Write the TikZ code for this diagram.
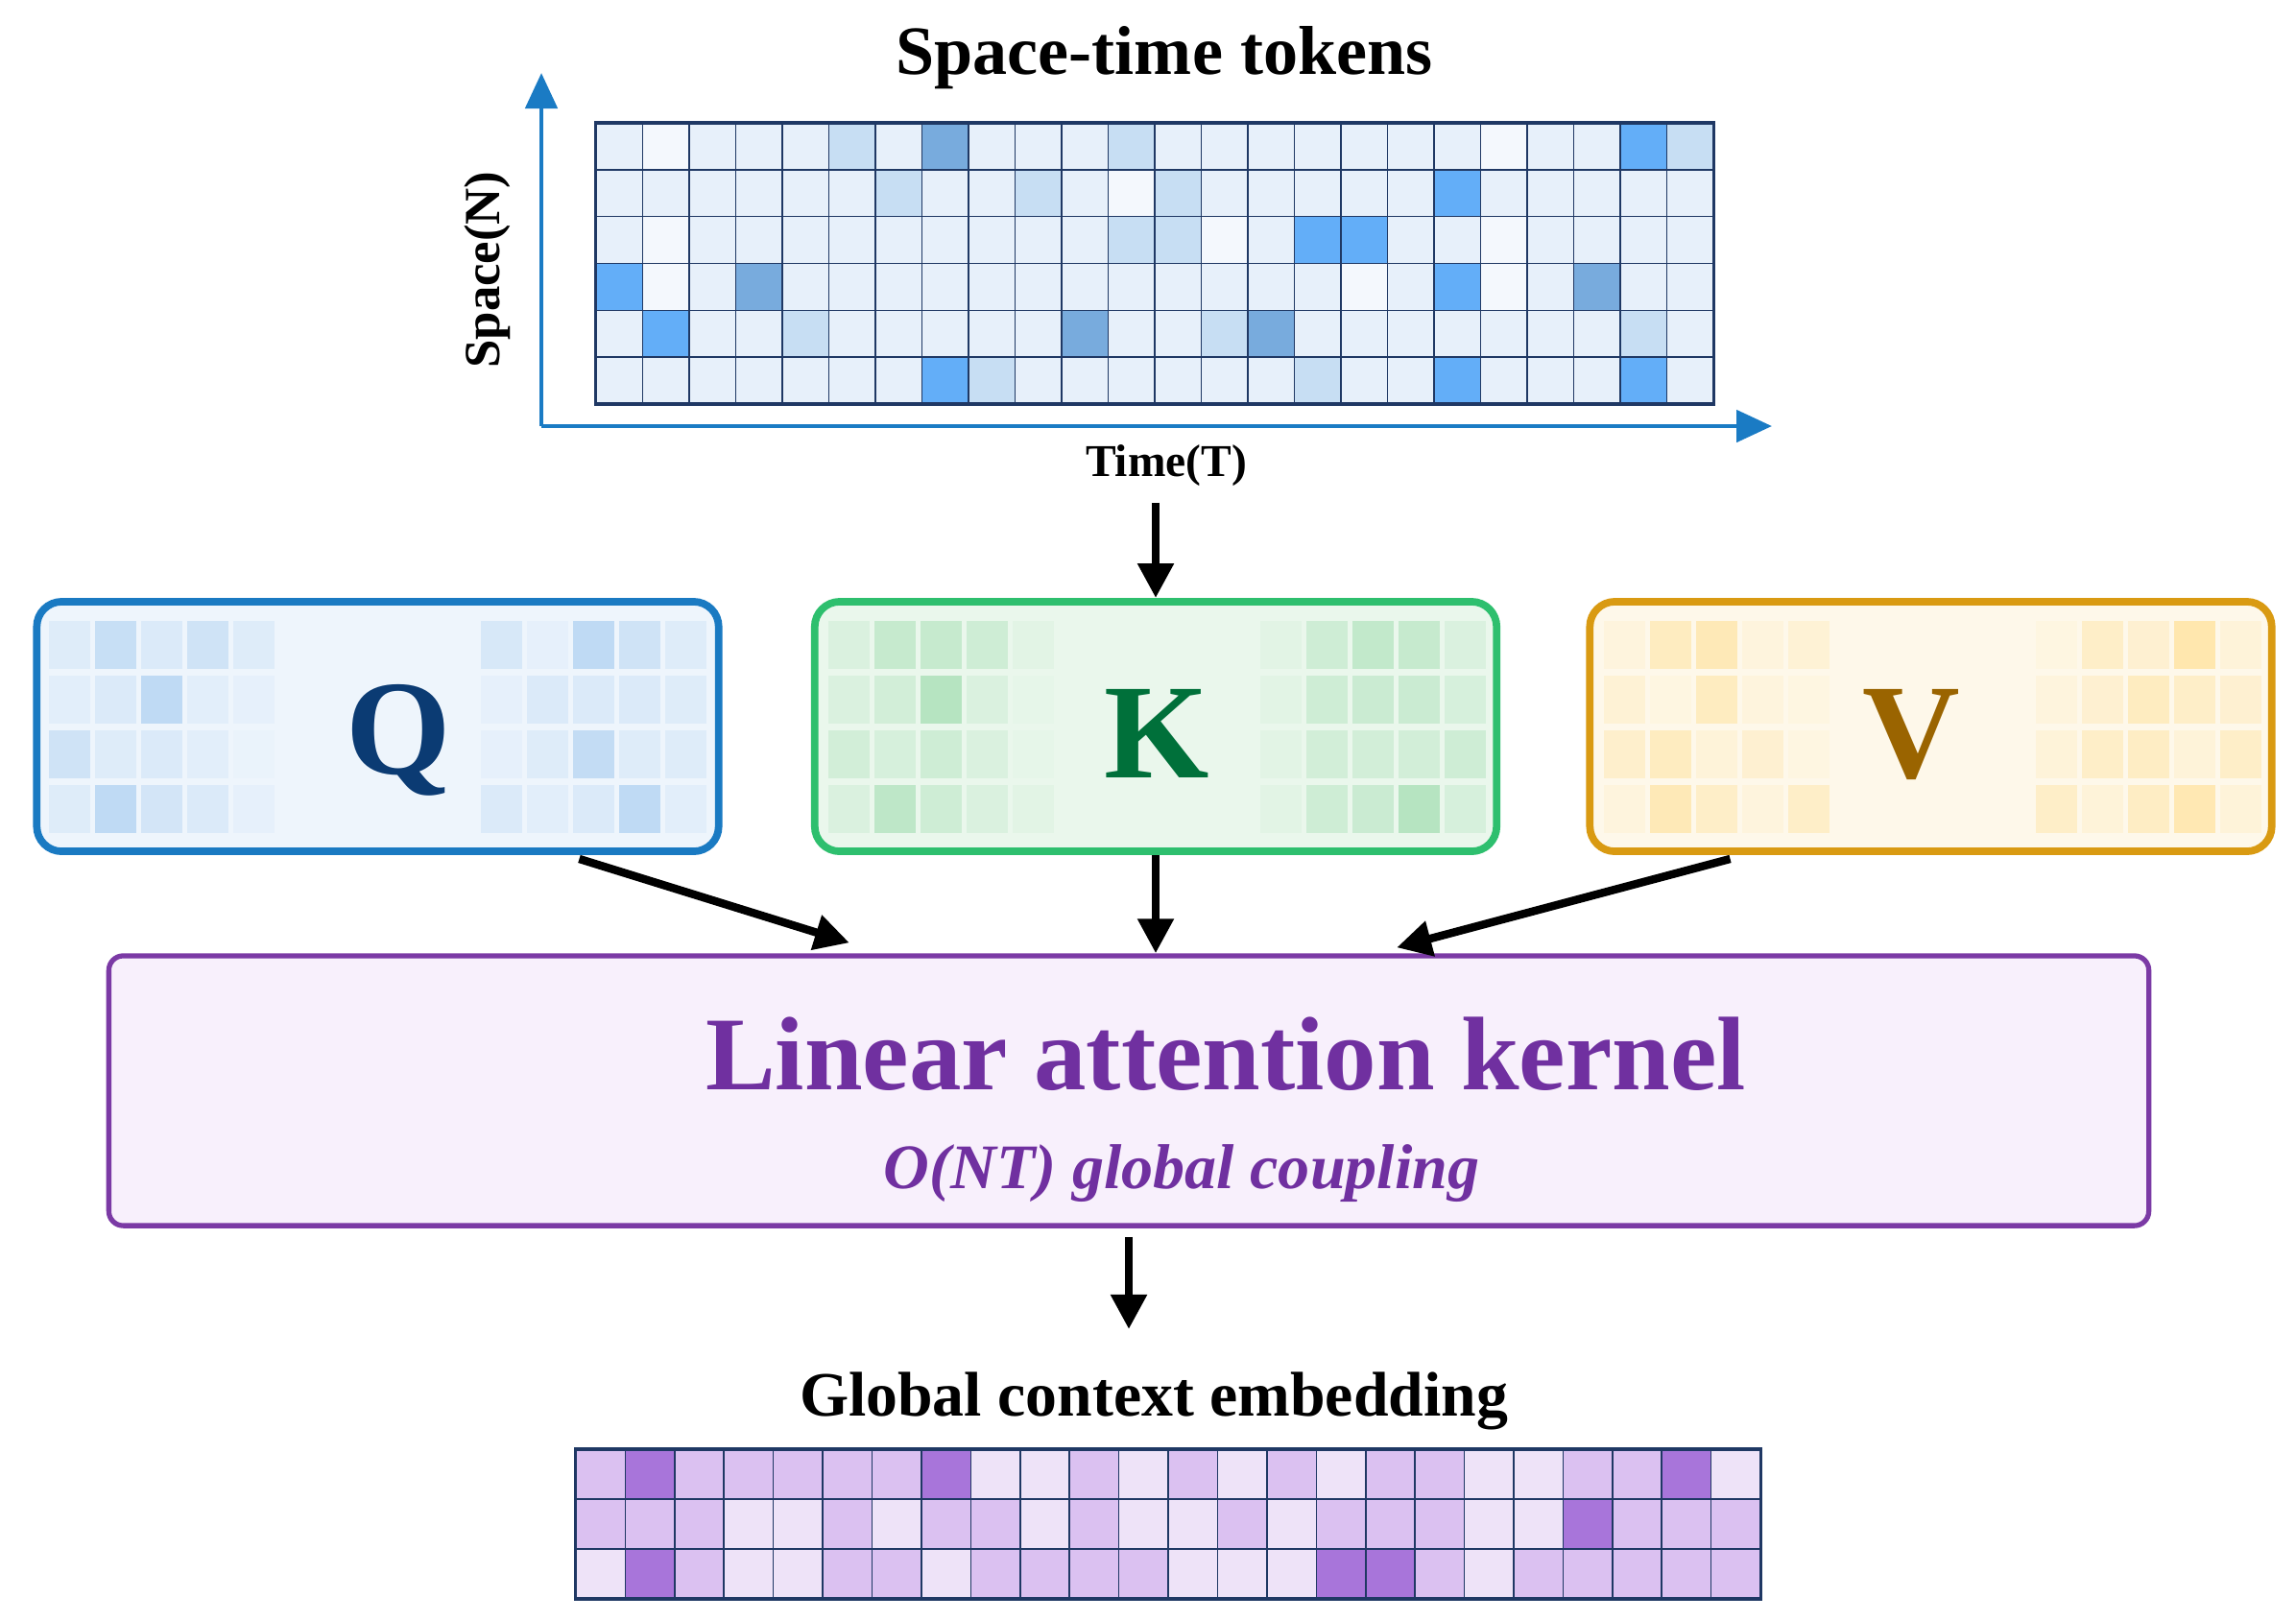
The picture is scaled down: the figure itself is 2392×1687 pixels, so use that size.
\documentclass[tikz,border=0pt]{standalone}
\usepackage{fontspec}
\setmainfont{Liberation Serif}
\usetikzlibrary{arrows.meta}

\definecolor{axblue}{HTML}{1A7BC4}
\definecolor{navy}{HTML}{1F3864}
\definecolor{tokw}{HTML}{F4F8FD}
\definecolor{toka}{HTML}{E7F0FA}
\definecolor{tokb}{HTML}{C7DEF3}
\definecolor{tokc}{HTML}{78ABDD}
\definecolor{tokd}{HTML}{63AEF8}
\definecolor{embp}{HTML}{EEE3F8}
\definecolor{embm}{HTML}{DBC1F1}
\definecolor{embd}{HTML}{A875DA}
\definecolor{qline}{HTML}{1A7AC2}
\definecolor{qfill}{HTML}{EEF5FC}
\definecolor{qtint}{HTML}{A0C8EE}
\definecolor{qtext}{HTML}{0B3B73}
\definecolor{kline}{HTML}{2EBF6E}
\definecolor{kfill}{HTML}{EAF7EC}
\definecolor{ktint}{HTML}{9ADAAA}
\definecolor{ktext}{HTML}{00703A}
\definecolor{vline}{HTML}{D99A12}
\definecolor{vfill}{HTML}{FEF8EA}
\definecolor{vtint}{HTML}{FFDF95}
\definecolor{vtext}{HTML}{9A6400}
\definecolor{kerline}{HTML}{7B3AA5}
\definecolor{kerfill}{HTML}{F8F0FC}
\definecolor{kertext}{HTML}{7030A0}

\begin{document}
\begin{tikzpicture}[x=0.01cm, y=-0.01cm, every node/.style={font=\bfseries},
	flow/.style={-{Triangle[length=3.6mm,width=3.6mm]}, line width=2.4pt},
	axis/.style={-{Triangle[length=3.7mm,width=3.3mm]}, line width=1.4pt, axblue},
	tokcell/.style={draw=navy, line width=0.45pt},
	ttl/.style={font=\bfseries\fontsize{20.5}{24}\selectfont},
	axlbl/.style={font=\bfseries\fontsize{15}{18}\selectfont},
	qkv/.style={rounded corners=0.26cm, line width=2.2pt, minimum width=7.1cm, minimum height=2.6cm, inner sep=0pt},
	qkvlbl/.style={font=\bfseries\fontsize{40}{48}\selectfont, anchor=base}]
	\useasboundingbox (0,0) rectangle (2392,1687);

	\node[ttl, anchor=base] (ttl) at (1213,77) {Space-time tokens};
	\foreach \row [count=\r] in {{a,w,a,a,a,b,a,c,a,a,a,b,a,a,a,a,a,a,a,w,a,a,d,b},
		{a,a,a,a,a,a,b,a,a,b,a,w,b,a,a,a,a,a,d,a,a,a,a,a},
		{a,w,a,a,a,a,a,a,a,a,a,b,b,w,a,d,d,a,a,w,a,a,a,a},
		{d,w,a,c,a,a,a,a,a,a,a,a,a,a,a,a,w,a,d,w,a,c,a,a},
		{a,d,a,a,b,a,a,a,a,a,c,a,a,b,c,a,a,a,a,a,a,a,b,a},
		{a,a,a,a,a,a,a,d,b,a,a,a,a,a,a,b,a,a,d,a,a,a,d,a}}
		\foreach \v [count=\c] in \row
			\draw[tokcell, fill=tok\v] ({621+(\c-1)*48.5},{128+(\r-1)*48.83}) rectangle ++(48.5,48.83);
	\node[draw=navy, line width=1pt, minimum width=11.64cm, minimum height=2.93cm, inner sep=0pt] (tok) at (1203,274.5) {};
	\coordinate (org) at (564,444);
	\draw[axis] (org) -- (564,76);
	\draw[axis] (org) -- (1846,444);
	\node[axlbl, rotate=90] (spc) at (508,281) {Space(N)};
	\node[axlbl, font=\bfseries\fontsize{13.5}{16}\selectfont, anchor=base] (tim) at (1215,496) {Time(T)};

	\node[qkv, draw=qline, fill=qfill] (q) at (393.5,757) {};
	\node[qkv, draw=kline, fill=kfill] (k) at (1204,757) {};
	\node[qkv, draw=vline, fill=vfill] (v) at (2011.5,757) {};
	\foreach \row [count=\r] in {{20,50,25,40,20,30,10,60,40,20},{15,25,60,15,10,10,25,25,25,20},
		{40,20,25,15,5,10,20,55,20,20},{20,60,35,25,10,25,15,25,60,15}}
		\foreach \v [count=\c] in \row
			\fill[qtint!\v!qfill] ({51+(\c-1)*48+(\c>5)*210},{647+(\r-1)*57}) rectangle ++(43,50);
	\foreach \row [count=\r] in {{20,45,45,35,10,10,35,50,45,20},{20,30,65,20,5,10,35,40,40,25},
		{30,25,35,20,5,10,30,30,30,35},{20,55,35,20,10,10,35,40,65,25}}
		\foreach \v [count=\c] in \row
			\fill[ktint!\v!kfill] ({863+(\c-1)*48+(\c>5)*210},{647+(\r-1)*57}) rectangle ++(43,50);
	\foreach \row [count=\r] in {{15,50,60,15,25,10,40,30,70,20},{25,10,50,15,10,15,30,50,40,30},
		{35,50,20,30,10,20,40,45,20,40},{15,60,40,15,40,40,20,45,65,20}}
		\foreach \v [count=\c] in \row
			\fill[vtint!\v!vfill] ({1671+(\c-1)*48+(\c>5)*210},{647+(\r-1)*57}) rectangle ++(43,50);
	\node[qkvlbl, qtext] (qlbl) at (415,806) {Q};
	\node[qkvlbl, ktext] (klbl) at (1205,810) {K};
	\node[qkvlbl, vtext] (vlbl) at (1991,810) {V};
	\draw[flow, shorten <=0.05cm] (k.north |- tim.south) -- (k.north);

	\node[draw=kerline, fill=kerfill, rounded corners=0.15cm, line width=1.5pt, minimum width=21.24cm, minimum height=2.81cm] (kern) at (1176,1136.5) {};
	\node[kertext, font=\bfseries\fontsize{31}{36}\selectfont, anchor=base] (kt) at (1277,1135) {Linear attention kernel};
	\node[kertext, font=\bfseries\itshape\fontsize{18.8}{22}\selectfont, anchor=base] (ks) at (1231,1238) {O(NT) global coupling};
	\draw[flow] ([xshift=-1.49cm,yshift=-0.04cm]q.south east) -- ([xshift=-2.91cm,yshift=0.11cm]kern.north);
	\draw[flow] (k.south) -- (k.south |- kern.north);
	\draw[flow] ([xshift=1.5cm,yshift=-0.04cm]v.south west) -- ([xshift=2.79cm,yshift=0.06cm]kern.north);

	\node[ttl, font=\bfseries\fontsize{18.7}{22}\selectfont, anchor=base] (emb) at (1202,1475) {Global context embedding};
	\draw[flow, shorten <=0.09cm, shorten >=0.32cm] (kern.south) -- (kern.south |- emb.north);
	\foreach \row [count=\r] in {{m,d,m,m,m,m,m,d,p,p,m,p,m,p,m,p,m,m,p,p,m,m,d,p},
		{m,m,m,p,p,m,p,m,m,p,m,p,p,m,p,m,m,m,p,p,d,m,m,m},
		{p,d,m,p,p,m,m,p,m,m,m,m,p,p,p,d,d,m,p,m,m,m,m,m}}
		\foreach \v [count=\c] in \row
			\draw[tokcell, fill=emb\v] ({600+(\c-1)*51.42},{1510+(\r-1)*52}) rectangle ++(51.42,52);
	\node[draw=navy, line width=1pt, minimum width=12.34cm, minimum height=1.56cm, inner sep=0pt] (embgrid) at (1217,1588) {};
\end{tikzpicture}
\end{document}
